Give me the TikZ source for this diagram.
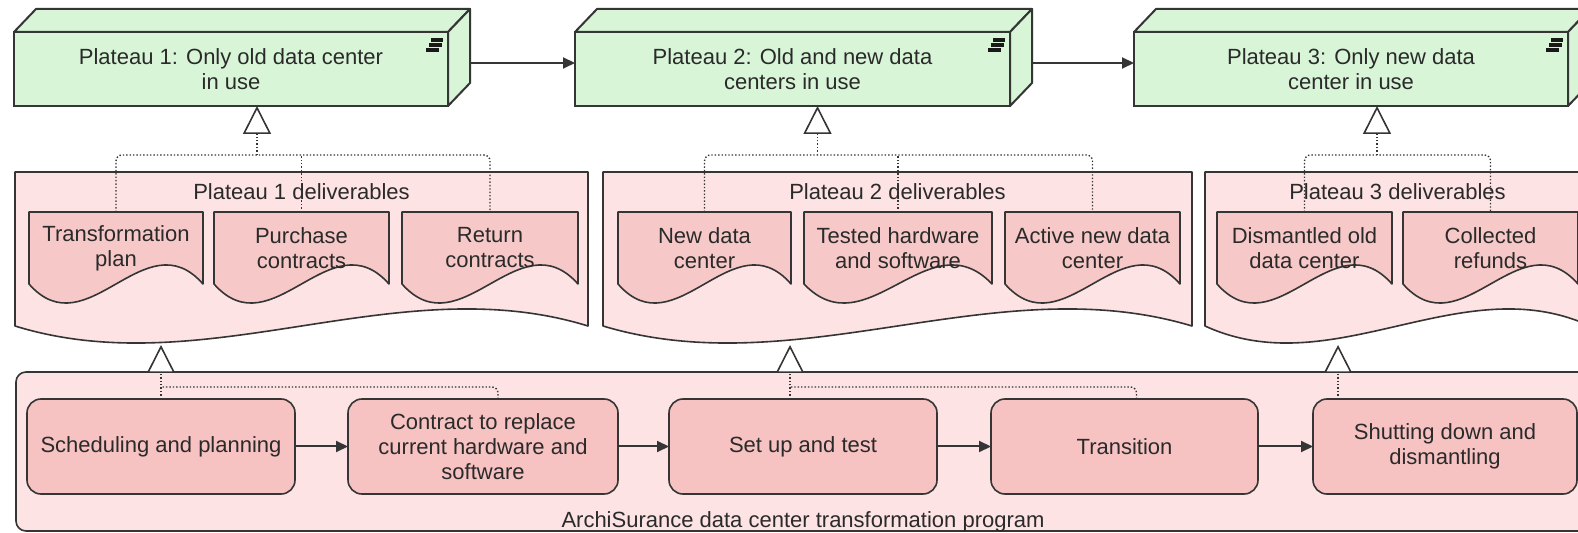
\documentclass[tikz,border=0pt]{standalone}
\usepackage{fontspec}
\setmainfont{Liberation Sans}
\usetikzlibrary{arrows.meta,calc,backgrounds}
\definecolor{platc}{HTML}{D8F5D8}
\definecolor{contc}{HTML}{FDE3E3}
\definecolor{docc}{HTML}{F7C8C8}
\definecolor{wpc}{HTML}{F6C2C2}
\definecolor{ln}{HTML}{353535}
\definecolor{txtc}{HTML}{2A2A2A}
\newcommand\wavebox[3]{%
  \draw[draw=ln, line width=0.8pt, fill=#3, line join=round] (#1.north west) -- (#1.north east) -- (#1.south east)
   .. controls ($(#1.south east)!0.3333!(#1.south west)+(0,-#2)$) and ($(#1.south west)!0.3333!(#1.south east)+(0,#2)$) .. (#1.south west) -- cycle;}
\begin{document}
\begin{tikzpicture}[x=0.5pt,y=-0.5pt,
  txt/.style={font=\fontsize{11}{12.5}\selectfont, text=txtc, align=center},
  plat/.style={txt, draw=ln, line width=1pt, fill=platc, minimum width=#1, minimum height=37pt, inner sep=0pt, outer sep=0pt},
  face/.style={draw=ln, line width=1pt, fill=platc, line join=round},
  icon/.style={draw=black!90, line width=1.6pt},
  cbox/.style={minimum width=#1, minimum height=77pt, inner sep=0pt, outer sep=0pt},
  dbox/.style={txt, minimum width=#1, minimum height=36pt, inner sep=0pt, outer sep=0pt},
  wbox/.style={txt, draw=ln, line width=0.8pt, fill=wpc, rounded corners=7pt, minimum width=#1, minimum height=47.5pt, inner sep=0pt, outer sep=0pt},
  flow/.style={draw=ln, line width=1pt, -{Triangle[length=6pt,width=5.5pt]}},
  real/.style={draw=ln, line width=0.7pt, densely dotted, -{Triangle[length=14pt,width=14pt,fill=white,line width=0.8pt]}},
  dotl/.style={draw=ln, line width=0.7pt, densely dotted, rounded corners=3pt},
]
\useasboundingbox (0,0) rectangle (1578,533);
\begin{pgfonlayer}{background}
  \fill[white] (0,0) rectangle (1578,533);
\end{pgfonlayer}

% Plateaus
\node[plat=217pt] (p1) at (231,69) {Plateau 1: Only old data center\\in use};
\node[plat=217.5pt] (p2) at (792.5,69) {Plateau 2: Old and new data\\centers in use};
\node[plat=217pt] (p3) at (1351,69) {Plateau 3: Only new data\\center in use};
\foreach \p in {p1,p2,p3}{
  \draw[face] (\p.north west) -- ++(22,-23) -- ($(\p.north east)+(22,-23)$) -- (\p.north east) -- cycle;
  \draw[face] (\p.north east) -- ++(22,-23) -- ($(\p.south east)+(22,-23)$) -- (\p.south east) -- cycle;
  \draw[icon] ($(\p.north east)+(-17,8)$) -- ++(12,0);
  \draw[icon] ($(\p.north east)+(-19,13)$) -- ++(13,0);
  \draw[icon] ($(\p.north east)+(-22,18)$) -- ++(13,0);
}
\draw[flow] ($(p1.east)+(22,-6)$) -- ($(p2.west)+(0,-6)$);
\draw[flow] ($(p2.east)+(22,-6)$) -- ($(p3.west)+(0,-6)$);

% Deliverable containers
\node[cbox=286.5pt] (c1) at (301.5,249) {};
\node[cbox=294.5pt] (c2) at (897.5,249) {};
\node[cbox=192.5pt] (c3) at (1397.5,249) {};
\node[txt] (c1l) at ($(c1.north)+(0,20)$) {Plateau 1 deliverables};
\node[txt] (c2l) at ($(c2.north)+(0,20)$) {Plateau 2 deliverables};
\node[txt] (c3l) at ($(c3.north)+(0,20)$) {Plateau 3 deliverables};

\node[dbox=87pt] (d11) at (116,248) {Transformation\\plan};
\node[dbox=87.5pt] (d12) at (301.5,248) {Purchase\\contracts};
\node[dbox=88pt] (d13) at (490,248) {Return\\contracts};
\node[dbox=86.5pt] (d21) at (704.5,248) {New data\\center};
\node[dbox=94pt] (d22) at (898,248) {Tested hardware\\and software};
\node[dbox=87.5pt] (d23) at (1092.5,248) {Active new data\\center};
\node[dbox=87.5pt] (d31) at (1304.5,248) {Dismantled old\\data center};
\node[dbox=87.5pt] (d32) at (1490.5,248) {Collected\\refunds};

\begin{pgfonlayer}{background}
  \foreach \c in {c1,c2,c3}{\wavebox{\c}{59}{contc}}
  \foreach \d in {d11,d12,d13,d21,d22,d23,d31,d32}{\wavebox{\d}{66}{docc}}
\end{pgfonlayer}

% Realization: deliverables -> plateaus
\coordinate (q1) at ($(p1.south)+(26,49)$);
\coordinate (q2) at ($(p2.south)+(25,49)$);
\coordinate (q3) at ($(p3.south)+(26,49)$);
\draw[real] (q1) -- (q1 |- p1.south);
\draw[real] (q2) -- (q2 |- p2.south);
\draw[real] (q3) -- (q3 |- p3.south);
\draw[dotl] (d11.north) |- (q1) -| (d13.north);
\draw[dotl] (d12.north) -- (d12.north |- q1);
\draw[dotl] (d21.north) |- (q2) -| (d23.north);
\draw[dotl] (d22.north) -- (d22.north |- q2);
\draw[dotl] (d31.north) |- (q3) -| (d32.north);

% Program
\node[draw=ln, line width=0.8pt, fill=contc, rounded corners=5pt, minimum width=787pt, minimum height=79.5pt, inner sep=0pt, outer sep=0pt] (pg) at (803,451.5) {};
\node[txt] (pgl) at (803,522) {ArchiSurance data center transformation program};

\node[wbox=134pt] (w1) at (161,446.5) {Scheduling and planning};
\node[wbox=135pt] (w2) at (483,446.5) {Contract to replace\\current hardware and\\software};
\node[wbox=134pt] (w3) at (803,446.5) {Set up and test};
\node[wbox=133.5pt] (w4) at (1124.5,446.5) {Transition};
\node[wbox=132pt] (w5) at (1445,446.5) {Shutting down and\\dismantling};
\draw[flow] (w1) -- (w2);
\draw[flow] (w2) -- (w3);
\draw[flow] (w3) -- (w4);
\draw[flow] (w4) -- (w5);

% Realization: work packages -> deliverables
\coordinate (t1) at (161,345);
\coordinate (j1) at (161,387);
\coordinate (t2) at (790,345);
\coordinate (j2) at (790,387);
\coordinate (t3) at (1338,345);
\draw[real] (w1.north) -- (t1);
\draw[dotl] ($(w2.north)+(15,0)$) |- (j1);
\draw[real] ($(w3.north)+(-13,0)$) -- (t2);
\draw[dotl] ($(w4.north)+(12,0)$) |- (j2);
\draw[real] ($(w5.north)+(-107,0)$) -- (t3);
\end{tikzpicture}
\end{document}
